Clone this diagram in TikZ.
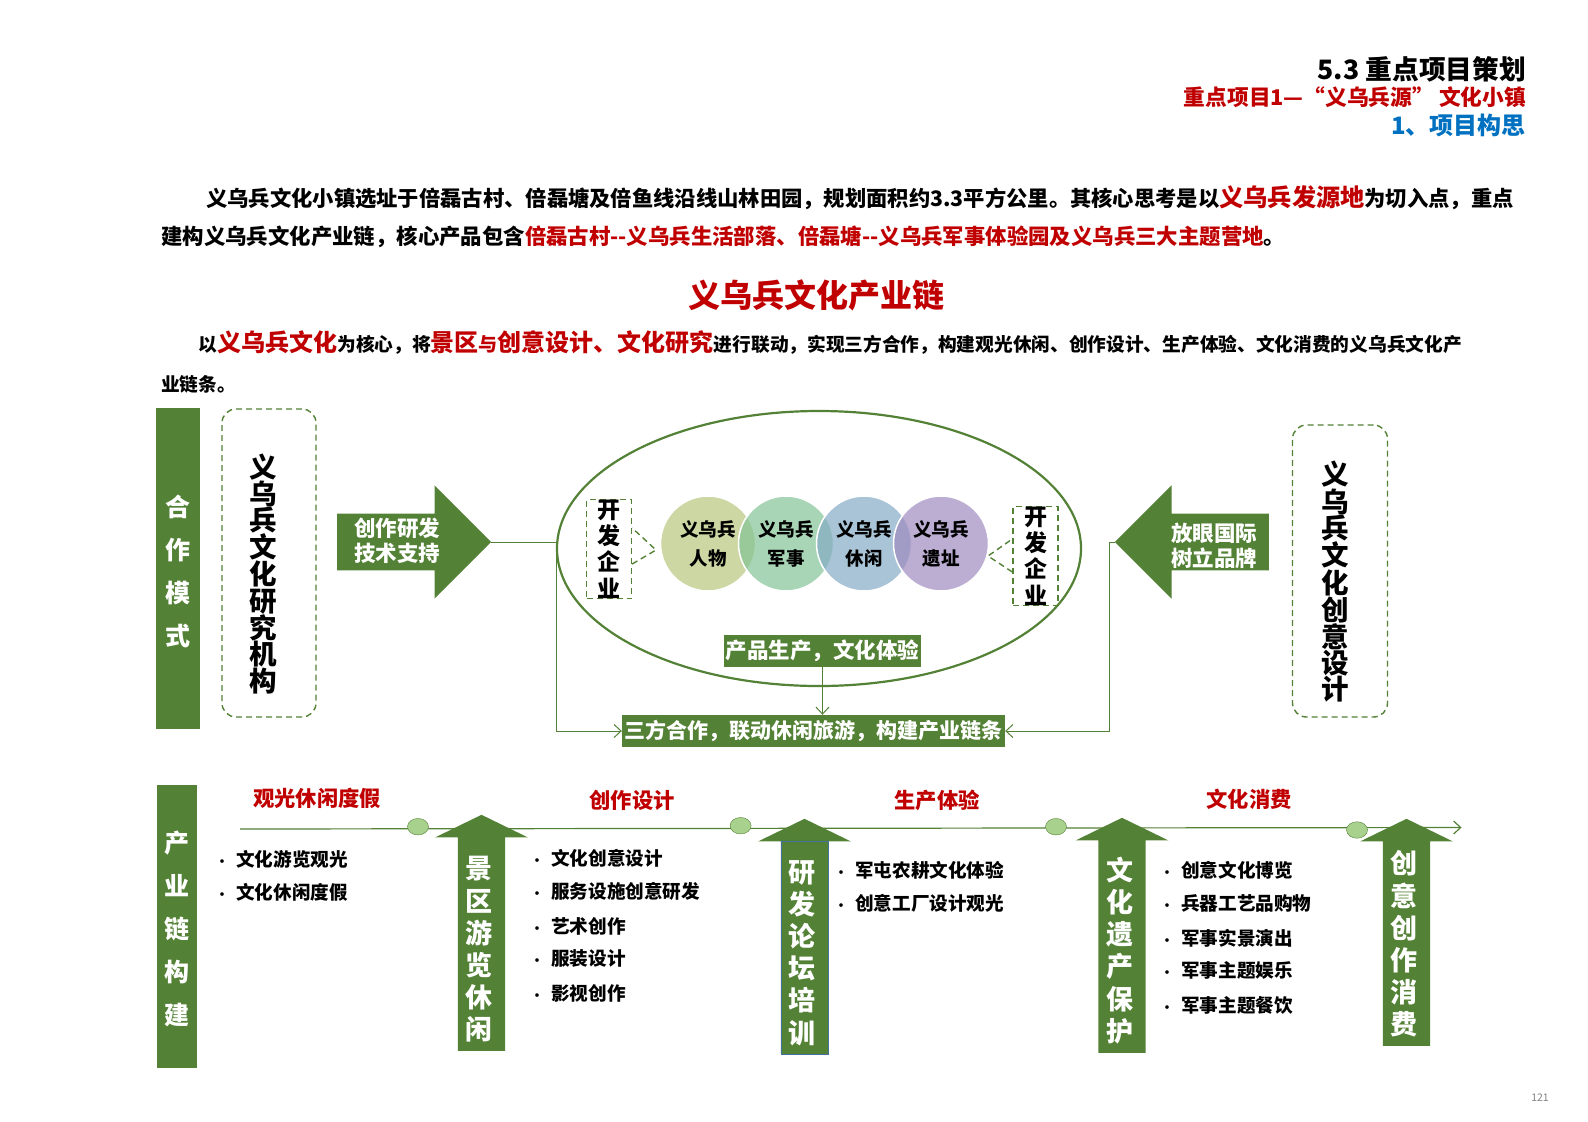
\documentclass[tikz,border=0pt]{standalone}
\usepackage{fontspec}
\setmainfont{Noto Sans CJK SC}
\usepackage{tikz}
\usetikzlibrary{shapes.arrows,shapes.geometric,arrows.meta}

\definecolor{chaingreen}{HTML}{538135}
\definecolor{chainred}{HTML}{C00000}
\definecolor{chainblue}{HTML}{0070C0}
\definecolor{dotgreen}{HTML}{A9D18E}
\definecolor{ballone}{RGB}{184,198,124}
\definecolor{balltwo}{RGB}{131,195,149}
\definecolor{ballthree}{RGB}{131,171,197}
\definecolor{ballfour}{RGB}{159,139,191}
\definecolor{outlineblue}{RGB}{65,113,156}
\newcommand{\fs}[1]{\fontsize{#1}{#1}\selectfont}
\newcommand{\rd}[2]{{\color{chainred}\fs{#1}#2}}
\newcommand{\itm}[1]{\makebox[18pt][l]{\hspace*{-2.5pt}\fs{13}•}#1}

\tikzset{
	line/.style={anchor=west,inner sep=0,font=\bfseries\fs{21.3}},
	bar/.style={fill=chaingreen,text=white,inner sep=0,align=center},
	bartext/.style={inner sep=0,text=white,align=center,font=\bfseries\fontsize{25}{43}\selectfont},
	dashbox/.style={draw=chaingreen,line width=1.4pt,rounded corners=14pt,inner sep=0,dash pattern=on 6pt off 4pt},
	devbox/.style={draw=chaingreen,line width=1.4pt,dash pattern=on 6pt off 4pt,inner sep=0,align=center,minimum width=45,minimum height=99,font=\bfseries\fontsize{23}{26.3}\selectfont},
	blockarrow/.style={single arrow,anchor=tail,fill=chaingreen,single arrow head indent=0pt},
	sidearrow/.style={blockarrow,inner sep=28.25pt,single arrow head extend=28.25pt,minimum height=154},
	uparrow/.style={blockarrow,shape border rotate=90,inner sep=23.5pt,single arrow tip angle=128,single arrow head extend=22.75pt},
	uptext/.style={inner sep=0,text=white,align=center,font=\bfseries\fontsize{27}{32.2}\selectfont},
	arrowtext/.style={inner sep=0,text=white,align=center,font=\bfseries\fontsize{21.5}{25.5}\selectfont},
	sidetext/.style={inner sep=0,align=center,font=\bfseries\fontsize{27.5}{#1}\selectfont},
	ball/.style={circle,draw=white,line width=1.5pt,fill opacity=.7,draw opacity=1,text opacity=1,minimum size=95,inner sep=0,align=center,font=\bfseries\fontsize{18.5}{29}\selectfont},
	conn/.style={draw=chaingreen,line width=1pt},
	tiptop/.style={-{Straight Barb[length=7pt,width=13pt]}},
	devline/.style={conn,line width=1.4pt,dash pattern=on 6pt off 4pt},
	dot/.style={ellipse,draw=chaingreen,fill=dotgreen,minimum width=21,minimum height=16.5,inner sep=0},
	redtitle/.style={inner sep=0,text=chainred,font=\bfseries\fs{21.3}},
	item/.style={anchor=west,inner sep=0,font=\bfseries\fs{18.6}},
}

\begin{document}
\begin{tikzpicture}[x=1pt,y=-1pt]
	\useasboundingbox (0,0) rectangle (1588,1122);

	\node[inner sep=0,anchor=east,font=\bfseries\fs{26.7}] (title) at (1526,69) {5.3 重点项目策划};
	\node[inner sep=0,anchor=east,text=chainred,font=\bfseries\fs{21.7}] (subtitle) at (1526,97) {重点项目1—“义乌兵源” 文化小镇};
	\node[inner sep=0,anchor=east,text=chainblue,font=\bfseries\fs{24}] (section) at (1526,125) {1、项目构思};

	\node[line] (para1) at (206,197.5) {义乌兵文化小镇选址于倍磊古村、倍磊塘及倍鱼线沿线山林田园，规划面积约3.3平方公里。其核心思考是以\rd{24.2}{义乌兵发源地}为切入点，重点};
	\node[line,font=\bfseries\fs{21.4}] (para2) at (161,237) {建构义乌兵文化产业链，核心产品包含\textcolor{chainred}{倍磊古村-{}-义乌兵生活部落、倍磊塘-{}-义乌兵军事体验园及义乌兵三大主题营地}。};
	\node[inner sep=0,text=chainred,font=\bfseries\fs{32}] (heading) at (816,295) {义乌兵文化产业链};
	\node[line,font=\bfseries\fs{18.7}] (para3) at (198.5,343) {以\rd{24}{义乌兵文化}为核心，将\rd{24}{景区}\rd{19}{与}\rd{24}{创意设计、文化研究}进行联动，实现三方合作，构建观光休闲、创作设计、生产体验、文化消费的义乌兵文化产};
	\node[line,font=\bfseries\fs{18.7}] (para4) at (161,384) {业链条。};

	\node[bar,minimum width=44.5,minimum height=321] (mode) at (178,568.5) {};
	\node[bartext] (modetext) at (178,571) {合\\作\\模\\式};
	\node[bar,minimum width=40,minimum height=283] (build) at (177,926.5) {};
	\node[bartext] (buildtext) at (177,929) {产\\业\\链\\构\\建};
	\node[dashbox,minimum width=94,minimum height=308] (lab) at (269,563) {};
	\node[sidetext=26.8] (labtext) at (263.5,574) {义\\乌\\兵\\文\\化\\研\\究\\机\\构};
	\node[dashbox,minimum width=95,minimum height=292] (studio) at (1340,571) {};
	\node[sidetext=26.1] (studiotext) at (1335,582) {义\\乌\\兵\\文\\化\\创\\意\\设\\计};

	\node[sidearrow] (supportarrow) at (337,542) {};
	\node[arrowtext] (support) at (397,540.5) {创作研发\\技术支持};
	\node[sidearrow,shape border rotate=180] (brandarrow) at (1269,542) {};
	\node[arrowtext] (brand) at (1214,546) {放眼国际\\树立品牌};

	\node[ellipse,draw=chaingreen,line width=2.2pt,minimum width=524,minimum height=275,inner sep=0] (oval) at (819,548.5) {};
	\node[ball,fill=ballone] (people) at (708,543.5) {义乌兵\\人物};
	\node[ball,fill=balltwo] (army) at (786,543.5) {义乌兵\\军事};
	\node[ball,fill=ballthree] (leisure) at (864,543.5) {义乌兵\\休闲};
	\node[ball,fill=ballfour] (ruins) at (941,543.5) {义乌兵\\遗址};

	\node[devbox] (devl) at (609,549) {开\\发\\企\\业};
	\node[devbox] (devr) at (1035.5,556) {开\\发\\企\\业};
	\coordinate (tipl) at (656,550);
	\coordinate (tipr) at (988,556);
	\draw[devline] ([yshift=-15pt]devl.east) -- (tipl) -- ([yshift=21pt]devl.east);
	\draw[devline] ([yshift=-16pt]devr.west) -- (tipr) -- ([yshift=17pt]devr.west);

	\node[bar,minimum width=197,minimum height=32,font=\bfseries\fs{21.5}] (product) at (822.5,651) {产品生产，文化体验};
	\node[bar,minimum width=383,minimum height=32,font=\bfseries\fs{21}] (chain) at (813.5,731) {三方合作，联动休闲旅游，构建产业链条};

	\coordinate (bendl) at (556,542);
	\coordinate (bendr) at (1109,542);
	\draw[conn] (supportarrow.tip) -- (bendl);
	\draw[conn,tiptop] (bendl) |- (chain.west);
	\draw[conn] (brandarrow.tip) -- (bendr);
	\draw[conn,tiptop] (bendr) |- (chain.east);
	\draw[conn,tiptop] (product.south) -- (product.south |- chain.north);

	\coordinate (start) at (240,829);
	\coordinate (end) at (1461.5,827.5);
	\draw[conn,line width=1.2pt,tiptop] (start) -- (end);
	\node[dot] (dot1) at (418,826.7) {};
	\node[dot] (dot2) at (740.6,825.7) {};
	\node[dot] (dot3) at (1056,826.7) {};
	\node[dot] (dot4) at (1357,830) {};

	\node[redtitle] (stage1) at (317,798) {观光休闲度假};
	\node[redtitle] (stage2) at (632,800) {创作设计};
	\node[redtitle] (stage3) at (937,800) {生产体验};
	\node[redtitle] (stage4) at (1249,799) {文化消费};

	\node[uparrow,minimum height=236] (arrow1) at (481.5,1051) {};
	\node[uptext] (up1) at (479,949.5) {景\\区\\游\\览\\休\\闲};
	\node[uparrow,minimum height=235] (arrow2) at (804.5,1054) {};
	\node[draw=outlineblue,minimum width=47.5,minimum height=213,inner sep=0] (up2box) at (804.5,947.5) {};
	\node[uptext] (up2) at (802,953) {研\\发\\论\\坛\\培\\训};
	\node[uparrow,minimum height=235] (arrow3) at (1122,1053) {};
	\node[uptext] (up3) at (1120,950.5) {文\\化\\遗\\产\\保\\护};
	\node[uparrow,minimum height=227] (arrow4) at (1406.5,1046) {};
	\node[uptext] (up4) at (1404,944) {创\\意\\创\\作\\消\\费};

	\node[item] (a1) at (218,859) {\itm{文化游览观光}};
	\node[item] (a2) at (218,892) {\itm{文化休闲度假}};

	\node[item] (b1) at (533,858) {\itm{文化创意设计}};
	\node[item] (b2) at (533,891) {\itm{服务设施创意研发}};
	\node[item] (b3) at (533,926) {\itm{艺术创作}};
	\node[item] (b4) at (533,959) {\itm{服装设计}};
	\node[item] (b5) at (533,993) {\itm{影视创作}};

	\node[item] (c1) at (837,870) {\itm{军屯农耕文化体验}};
	\node[item] (c2) at (837,903) {\itm{创意工厂设计观光}};

	\node[item] (d1) at (1163,870) {\itm{创意文化博览}};
	\node[item] (d2) at (1163,903) {\itm{兵器工艺品购物}};
	\node[item] (d3) at (1163,938) {\itm{军事实景演出}};
	\node[item] (d4) at (1163,970) {\itm{军事主题娱乐}};
	\node[item] (d5) at (1163,1005) {\itm{军事主题餐饮}};

	\node[inner sep=0,text=gray,font=\fs{10.5}] (page) at (1540,1098) {121};
\end{tikzpicture}
\end{document}
